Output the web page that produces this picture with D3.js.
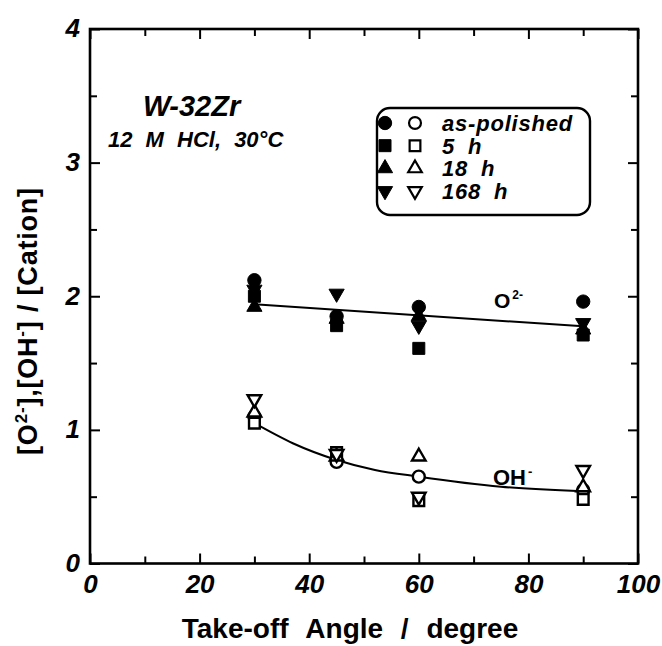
<!DOCTYPE html>
<html>
<head>
<meta charset="utf-8">
<script src="https://cdn.jsdelivr.net/npm/d3@7"></script>
<style>
    body { margin: 0; background: #fff; }
    svg { display: block; font-family: "Liberation Sans", Arial, sans-serif; }
</style>
</head>
<body>
<svg id="chart" width="662" height="646"></svg>
<script>
// data
const angles = [30, 45, 60, 90];

// [O2-] / [Cation]  (filled markers)
const o2AsPolished = [2.12, 1.85, 1.92, 1.96];
const o2H5 = [2.00, 1.78, 1.61, 1.71];
const o2H18 = [1.92, 1.83, 1.85, 1.75];
const o2H168 = [2.05, 2.02, 1.78, 1.80];

// [OH-] / [Cation]  (open markers)
const ohAsPolished = [1.10, 0.76, 0.65, 0.55];
const ohH5 = [1.05, 0.83, 0.47, 0.48];
const ohH18 = [1.13, 0.80, 0.80, 0.57];
const ohH168 = [1.23, 0.82, 0.50, 0.70];

// fitted lines as drawn
const o2Fit = [[30, 1.94], [90, 1.775]];
const ohFit = [[30, 1.05], [37, 0.90], [45, 0.775], [52, 0.70], [60, 0.65], [75, 0.575], [90, 0.54]];

const seriesNames = ['as-polished', '5 h', '18 h', '168 h'];
const xTicks = [0, 20, 40, 60, 80, 100];
const yTicks = [0, 1, 2, 3, 4];

const svg = d3.select('#chart');
const x = d3.scaleLinear().domain([0, 100]).range([90, 638]);
const y = d3.scaleLinear().domain([0, 4]).range([563.5, 29]);

const shapes = [
    { type: d3.symbolCircle, size: 140, rot: 0 },
    { type: d3.symbolSquare, size: 144, rot: 0 },
    { type: d3.symbolTriangle, size: 100, rot: 0 },
    { type: d3.symbolTriangle, size: 100, rot: 180 }
];

// axes, ticks pointing inward on all four sides
const xMinor = d3.range(0, 101, 10);
const yMinor = d3.range(0, 4.01, 0.5);
const isMajorX = d => xTicks.includes(d);
const isMajorY = d => yTicks.includes(d);

function styleTicks(g, major, horiz) {
    g.select('.domain').remove();
    g.selectAll('.tick line')
        .attr('stroke', '#000')
        .attr('stroke-width', 2)
        .each(function (d) {
            const len = major(d) ? 10 : 7;
            const line = d3.select(this);
            if (horiz) line.attr('y2', +line.attr('y2') < 0 ? -len : len);
            else line.attr('x2', +line.attr('x2') < 0 ? -len : len);
        });
}

svg.append('g')
    .attr('transform', `translate(0,${y(0)})`)
    .call(d3.axisBottom(x).tickValues(xMinor).tickSizeInner(-10).tickPadding(8)
        .tickFormat(d => isMajorX(d) ? d : ''))
    .call(g => styleTicks(g, isMajorX, true))
    .call(g => g.selectAll('text')
        .attr('y', 29)
        .attr('dy', 0)
        .attr('font-size', 26)
        .attr('font-weight', 'bold')
        .attr('font-style', 'italic')
        .attr('fill', '#000'));

svg.append('g')
    .attr('transform', `translate(0,${y(4)})`)
    .call(d3.axisTop(x).tickValues(xMinor).tickSizeInner(-10).tickFormat(''))
    .call(g => styleTicks(g, isMajorX, true));

svg.append('g')
    .attr('transform', `translate(${x(0)},0)`)
    .call(d3.axisLeft(y).tickValues(yMinor).tickSizeInner(-10).tickPadding(10)
        .tickFormat(d => isMajorY(d) ? d : ''))
    .call(g => styleTicks(g, isMajorY, false))
    .call(g => g.selectAll('text')
        .attr('dy', '0.3em')
        .attr('font-size', 26)
        .attr('font-weight', 'bold')
        .attr('font-style', 'italic')
        .attr('fill', '#000'));

svg.append('g')
    .attr('transform', `translate(${x(100)},0)`)
    .call(d3.axisRight(y).tickValues(yMinor).tickSizeInner(-10).tickFormat(''))
    .call(g => styleTicks(g, isMajorY, false));

// frame
svg.append('rect')
    .attr('x', x(0)).attr('y', y(4))
    .attr('width', x(100) - x(0)).attr('height', y(0) - y(4))
    .attr('fill', 'none').attr('stroke', '#000').attr('stroke-width', 2.6);

// axis titles
svg.append('text')
    .attr('x', 350).attr('y', 638)
    .attr('text-anchor', 'middle')
    .attr('font-size', 28).attr('font-weight', 'bold')
    .style('word-spacing', '10px')
    .text('Take-off Angle / degree');

const yTitle = svg.append('text')
    .attr('transform', 'translate(37,321) rotate(-90)')
    .attr('text-anchor', 'middle')
    .attr('font-size', 27).attr('font-weight', 'bold')
    .style('letter-spacing', '0.8px');
yTitle.append('tspan').text('[O');
yTitle.append('tspan').attr('dy', -10).attr('font-size', 17).text('2-');
yTitle.append('tspan').attr('dy', 10).text('],[OH');
yTitle.append('tspan').attr('dy', -10).attr('font-size', 17).text('-');
yTitle.append('tspan').attr('dy', 10).text('] / [Cation]');

// fitted lines
const line = d3.line().x(d => x(d[0])).y(d => y(d[1]));
svg.append('path')
    .attr('d', line(o2Fit))
    .attr('fill', 'none').attr('stroke', '#000').attr('stroke-width', 2);
svg.append('path')
    .attr('d', line.curve(d3.curveMonotoneX)(ohFit))
    .attr('fill', 'none').attr('stroke', '#000').attr('stroke-width', 2);

// markers
function drawSeries(values, shape, open) {
    svg.append('g').selectAll('path')
        .data(values.map((v, i) => [angles[i], v]))
        .join('path')
        .attr('transform', d => `translate(${x(d[0])},${y(d[1])}) rotate(${shape.rot})`)
        .attr('d', d3.symbol().type(shape.type).size(open ? shape.size * 0.8 : shape.size))
        .attr('fill', open ? '#fff' : '#000')
        .attr('stroke', '#000')
        .attr('stroke-width', open ? 2.4 : 1);
}

[ohAsPolished, ohH5, ohH18, ohH168].forEach((s, i) => drawSeries(s, shapes[i], true));
[o2AsPolished, o2H5, o2H18, o2H168].forEach((s, i) => drawSeries(s, shapes[i], false));

// line labels
const o2Label = svg.append('text')
    .attr('x', 494).attr('y', 308)
    .attr('font-size', 21).attr('font-weight', 'bold');
o2Label.append('tspan').text('O');
o2Label.append('tspan').attr('dy', -9).attr('dx', 2).attr('font-size', 12).text('2-');

const ohLabel = svg.append('text')
    .attr('x', 493).attr('y', 485)
    .attr('font-size', 22).attr('font-weight', 'bold');
ohLabel.append('tspan').text('OH');
ohLabel.append('tspan').attr('dy', -9).attr('dx', 2).attr('font-size', 13).text('-');

// sample annotation
svg.append('text')
    .attr('x', 143).attr('y', 116)
    .attr('font-size', 29).attr('font-weight', 'bold').attr('font-style', 'italic')
    .text('W-32Zr');
svg.append('text')
    .attr('x', 108).attr('y', 147)
    .attr('font-size', 22).attr('font-weight', 'bold').attr('font-style', 'italic')
    .style('word-spacing', '7px')
    .text('12 M HCl, 30°C');

// legend
const legend = svg.append('g');
legend.append('rect')
    .attr('x', 377).attr('y', 108)
    .attr('width', 213).attr('height', 107)
    .attr('rx', 13)
    .attr('fill', '#fff').attr('stroke', '#000').attr('stroke-width', 2.4);

const rowY = d3.scalePoint().domain(seriesNames).range([123, 191]);
seriesNames.forEach((name, i) => {
    const sh = shapes[i];
    const cy = rowY(name);
    legend.append('path')
        .attr('transform', `translate(385,${cy}) rotate(${sh.rot})`)
        .attr('d', d3.symbol().type(sh.type).size(sh.size))
        .attr('fill', '#000').attr('stroke', '#000');
    legend.append('path')
        .attr('transform', `translate(415,${cy}) rotate(${sh.rot})`)
        .attr('d', d3.symbol().type(sh.type).size(sh.size * 0.8))
        .attr('fill', '#fff').attr('stroke', '#000').attr('stroke-width', 2.2);
    legend.append('text')
        .attr('x', 442).attr('y', cy + 8)
        .attr('font-size', 22).attr('font-weight', 'bold').attr('font-style', 'italic')
        .style('letter-spacing', '0.8px')
        .style('word-spacing', '6px')
        .text(name);
});
</script>
</body>
</html>
